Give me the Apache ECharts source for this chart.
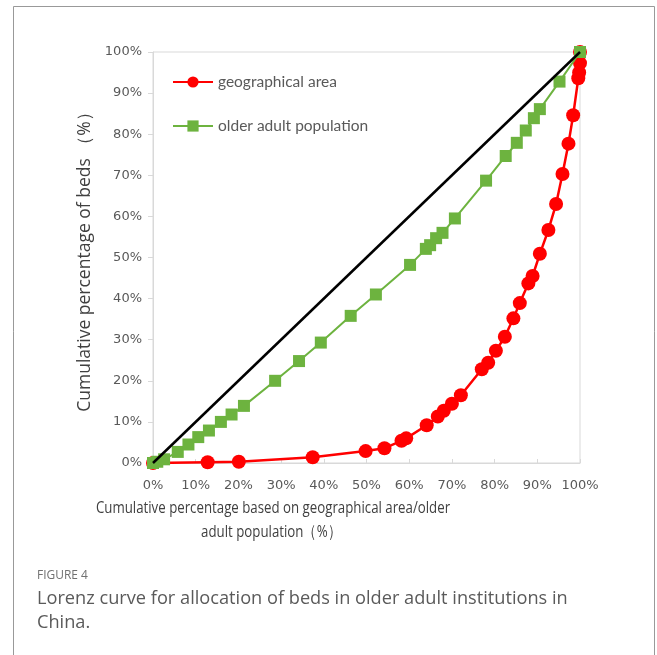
<!DOCTYPE html>
<html><head><meta charset="utf-8">
<script src="https://cdn.jsdelivr.net/npm/echarts@6/dist/echarts.min.js"></script>
<style>html,body{margin:0;padding:0;background:#fff}#c{width:657px;height:655px}</style>
</head><body><div id="c"></div>
<script>
var areaX = [0, 12.8, 20.1, 37.4, 49.8, 54.2, 58.2, 59.3, 64.1, 66.7, 68.1, 70.0, 72.1, 77.0, 78.5, 80.3, 82.4, 84.4, 85.9, 87.9, 88.9, 90.6, 92.6, 94.4, 95.9, 97.3, 98.4, 99.6, 99.8, 100, 100];
var areaY = [0, 0.2, 0.3, 1.4, 2.9, 3.6, 5.4, 6.0, 9.2, 11.3, 12.7, 14.4, 16.5, 22.8, 24.4, 27.3, 30.7, 35.2, 38.9, 43.7, 45.5, 50.9, 56.7, 63.0, 70.3, 77.7, 84.6, 93.6, 95.0, 97.3, 100];
var popX = [0, 1.0, 2.6, 5.8, 8.3, 10.6, 13.1, 15.9, 18.4, 21.3, 28.6, 34.2, 39.3, 46.3, 52.2, 60.2, 63.9, 64.9, 66.3, 67.8, 70.7, 78.0, 82.6, 85.2, 87.3, 89.2, 90.6, 95.2, 100];
var popY = [0, 0.3, 0.9, 2.7, 4.5, 6.3, 7.9, 10.0, 11.8, 13.9, 20.0, 24.8, 29.3, 35.8, 41.0, 48.2, 52.1, 53.0, 54.7, 56.0, 59.5, 68.7, 74.7, 77.9, 80.9, 83.9, 86.1, 92.8, 100];
var equalityX = [0, 100];
var equalityY = [0, 100];
var seriesNames = ['geographical area', 'older adult population'];
var yAxisTitle = 'Cumulative percentage of beds （%）';
var xAxisTitle = ['Cumulative percentage based on geographical area/older', 'adult population（%）'];
var figLabel = 'FIGURE 4';
var caption = ['Lorenz curve for allocation of beds in older adult institutions in', 'China.'];

function zip(a, b) { return a.map(function (v, i) { return [v, b[i]]; }); }

var chart = echarts.init(document.getElementById('c'), null, {renderer: 'canvas'});
var axisFont = {color: '#595959', fontSize: 13, fontFamily: 'DejaVu Sans'};
var xTitleStyle = {fill: '#404040', fontSize: 17, fontFamily: 'Open Sans', align: 'center', verticalAlign: 'middle'};
var capStyle = {fill: '#5a5a5a', fontSize: 18.2, fontFamily: 'Open Sans', verticalAlign: 'middle'};
chart.setOption({
  animation: false,
  backgroundColor: '#fff',
  grid: {left: 153, right: 77, top: 52, bottom: 192, show: true, borderColor: '#d9d9d9', borderWidth: 1},
  legend: {
    orient: 'vertical', left: 167, top: 69, itemGap: 28, itemWidth: 40, itemHeight: 14,
    data: seriesNames,
    textStyle: {color: '#595959', fontSize: 15.5, fontFamily: 'Lato'}
  },
  xAxis: {
    type: 'value', min: 0, max: 100, interval: 10,
    axisLine: {show: true, lineStyle: {color: '#d9d9d9'}},
    axisTick: {show: true, inside: true, length: 4, lineStyle: {color: '#d9d9d9'}},
    splitLine: {show: false},
    axisLabel: Object.assign({formatter: '{value}%', margin: 16}, axisFont)
  },
  yAxis: {
    type: 'value', min: 0, max: 100, interval: 10,
    name: yAxisTitle, nameLocation: 'middle', nameGap: 59,
    nameTextStyle: {color: '#404040', fontSize: 17.5, fontFamily: 'Open Sans'},
    axisLine: {show: true, lineStyle: {color: '#d9d9d9'}},
    axisTick: {show: true, length: 5, lineStyle: {color: '#d9d9d9'}},
    splitLine: {show: false},
    axisLabel: Object.assign({formatter: '{value}%', margin: 11}, axisFont)
  },
  graphic: [
    {type: 'rect', shape: {x: 13.5, y: 6.5, width: 641, height: 660}, style: {fill: 'none', stroke: '#999', lineWidth: 1}, silent: true},
    {type: 'text', x: 273, y: 508, scaleX: 0.78, style: Object.assign({text: xAxisTitle[0]}, xTitleStyle)},
    {type: 'text', x: 271, y: 532, scaleX: 0.78, style: Object.assign({text: xAxisTitle[1]}, xTitleStyle)},
    {type: 'text', x: 37, y: 575, scaleX: 0.92, style: {text: figLabel, fill: '#707070', fontSize: 13, fontFamily: 'Open Sans', verticalAlign: 'middle'}},
    {type: 'text', x: 37, y: 599, style: Object.assign({text: caption[0]}, capStyle)},
    {type: 'text', x: 37, y: 623, style: Object.assign({text: caption[1]}, capStyle)}
  ],
  series: [
    {name: seriesNames[0], type: 'line', data: zip(areaX, areaY), symbol: 'circle', symbolSize: 14,
      itemStyle: {color: '#ff0000'}, lineStyle: {color: '#ff0000', width: 2.5}, z: 2},
    {name: seriesNames[1], type: 'line', data: zip(popX, popY), symbol: 'rect', symbolSize: 12,
      itemStyle: {color: '#6db33f'}, lineStyle: {color: '#6db33f', width: 2}, z: 3},
    {name: 'equality', type: 'line', data: zip(equalityX, equalityY), showSymbol: false, lineStyle: {color: '#000', width: 2.5}, z: 4}
  ]
});
</script></body></html>
